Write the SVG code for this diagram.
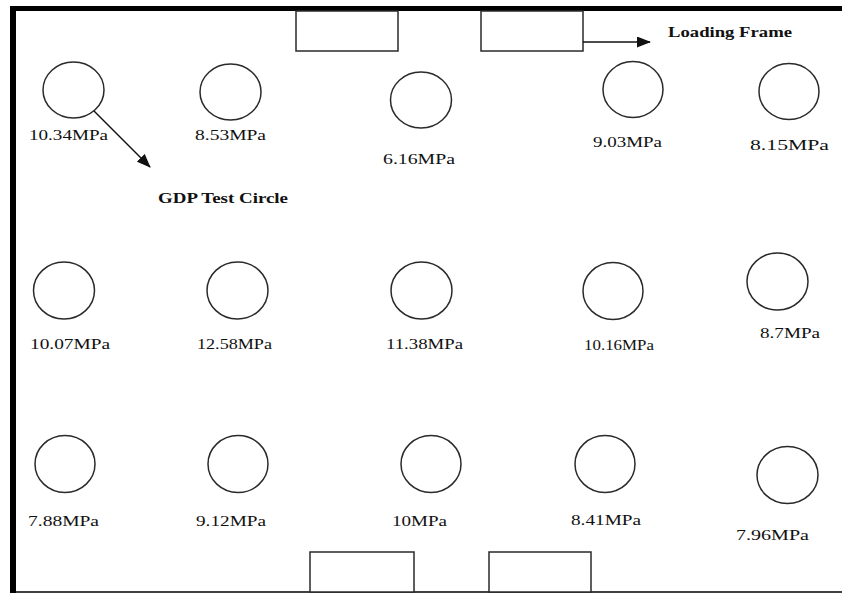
<svg xmlns="http://www.w3.org/2000/svg" width="842" height="595" viewBox="0 0 842 595">
  <defs>
    <marker id="arrow" viewBox="0 0 14 11" refX="13" refY="5.5" markerWidth="14" markerHeight="11" markerUnits="userSpaceOnUse" orient="auto">
      <path d="M0,0 L14,5.5 L0,11 Z" fill="#111"/>
    </marker>
  </defs>
  <style>
    .pt { fill: none; stroke: #2a2a2a; stroke-width: 1.5; }
    .box { fill: #fff; stroke: #2a2a2a; stroke-width: 1.5; }
    .lbl { font-family: "Liberation Serif", "Times New Roman", serif; font-size: 15px; fill: #111; }
    .note { font-family: "Liberation Serif", "Times New Roman", serif; font-size: 14px; font-weight: bold; fill: #111; }
    .conn { stroke: #111; stroke-width: 1.5; fill: none; }
  </style>

  <rect x="0" y="0" width="842" height="595" fill="#fff"/>

  <!-- outer frame: heavy left and top edges, thin bottom edge -->
  <g id="frame">
    <rect x="10" y="6" width="6" height="587" fill="#000"/>
    <rect x="10" y="6" width="832" height="5" fill="#000"/>
    <line x1="10" y1="592" x2="842" y2="592" stroke="#000" stroke-width="1.5"/>
  </g>

  <!-- loading frame blocks -->
  <g id="frame-top-left"><rect class="box" x="296" y="11" width="102" height="40"/></g>
  <g id="frame-top-right"><rect class="box" x="481" y="11" width="102" height="40"/></g>
  <g id="frame-bottom-left"><rect class="box" x="310" y="552" width="104" height="40"/></g>
  <g id="frame-bottom-right"><rect class="box" x="489" y="552" width="102" height="40"/></g>

  <!-- row 1 -->
  <g id="p1"><ellipse class="pt" cx="73.5" cy="90" rx="30.5" ry="28"/><text class="lbl" x="29" y="140" textLength="79" lengthAdjust="spacingAndGlyphs">10.34MPa</text></g>
  <g id="p2"><ellipse class="pt" cx="230.5" cy="92" rx="30.5" ry="28"/><text class="lbl" x="195" y="140" textLength="71" lengthAdjust="spacingAndGlyphs">8.53MPa</text></g>
  <g id="p3"><ellipse class="pt" cx="421" cy="100" rx="30.5" ry="28"/><text class="lbl" x="383" y="164" textLength="72" lengthAdjust="spacingAndGlyphs">6.16MPa</text></g>
  <g id="p4"><ellipse class="pt" cx="633" cy="89.5" rx="30" ry="28"/><text class="lbl" x="593" y="147" textLength="69" lengthAdjust="spacingAndGlyphs">9.03MPa</text></g>
  <g id="p5"><ellipse class="pt" cx="789" cy="91.5" rx="30" ry="28"/><text class="lbl" x="750" y="150" textLength="79" lengthAdjust="spacingAndGlyphs">8.15MPa</text></g>

  <!-- row 2 -->
  <g id="p6"><ellipse class="pt" cx="64" cy="290.5" rx="30.5" ry="28.5"/><text class="lbl" x="30" y="349" textLength="80" lengthAdjust="spacingAndGlyphs">10.07MPa</text></g>
  <g id="p7"><ellipse class="pt" cx="237.5" cy="290.5" rx="30.5" ry="28.5"/><text class="lbl" x="197" y="349" textLength="75" lengthAdjust="spacingAndGlyphs">12.58MPa</text></g>
  <g id="p8"><ellipse class="pt" cx="421.5" cy="290.5" rx="30.5" ry="28.5"/><text class="lbl" x="386" y="349" textLength="77" lengthAdjust="spacingAndGlyphs">11.38MPa</text></g>
  <g id="p9"><ellipse class="pt" cx="613" cy="291" rx="30" ry="28.5"/><text class="lbl" x="584" y="350" textLength="70" lengthAdjust="spacingAndGlyphs">10.16MPa</text></g>
  <g id="p10"><ellipse class="pt" cx="777.5" cy="281.5" rx="30.5" ry="28.5"/><text class="lbl" x="760" y="338" textLength="60" lengthAdjust="spacingAndGlyphs">8.7MPa</text></g>

  <!-- row 3 -->
  <g id="p11"><ellipse class="pt" cx="65" cy="464" rx="30" ry="28.5"/><text class="lbl" x="28" y="526" textLength="71" lengthAdjust="spacingAndGlyphs">7.88MPa</text></g>
  <g id="p12"><ellipse class="pt" cx="238" cy="464" rx="30" ry="28.5"/><text class="lbl" x="196" y="526" textLength="70" lengthAdjust="spacingAndGlyphs">9.12MPa</text></g>
  <g id="p13"><ellipse class="pt" cx="431" cy="464" rx="30" ry="28.5"/><text class="lbl" x="392" y="526" textLength="55" lengthAdjust="spacingAndGlyphs">10MPa</text></g>
  <g id="p14"><ellipse class="pt" cx="605" cy="464" rx="30" ry="28.5"/><text class="lbl" x="571" y="525" textLength="70" lengthAdjust="spacingAndGlyphs">8.41MPa</text></g>
  <g id="p15"><ellipse class="pt" cx="787.5" cy="475" rx="30.5" ry="28.5"/><text class="lbl" x="736" y="540" textLength="73" lengthAdjust="spacingAndGlyphs">7.96MPa</text></g>

  <!-- callout texts -->
  <g id="note-frame"><text class="note" x="668" y="37" textLength="124" lengthAdjust="spacingAndGlyphs">Loading Frame</text></g>
  <g id="note-circle"><text class="note" x="158" y="203" textLength="130" lengthAdjust="spacingAndGlyphs">GDP Test Circle</text></g>

  <!-- connectors -->
  <g id="connectors">
    <line class="conn" x1="94" y1="111" x2="150" y2="167" marker-end="url(#arrow)"/>
    <line class="conn" x1="583" y1="42" x2="650" y2="42" marker-end="url(#arrow)"/>
  </g>
</svg>
